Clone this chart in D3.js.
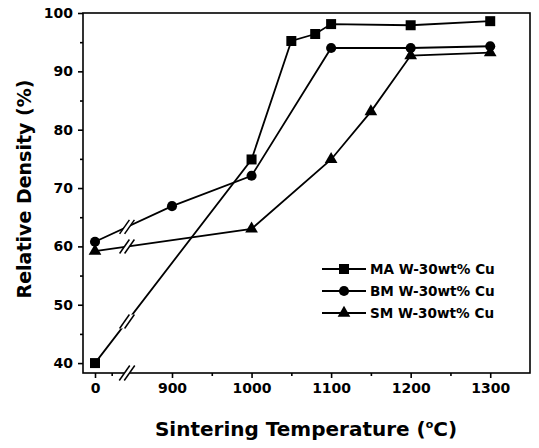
<!DOCTYPE html>
<html lang="en">
<head>
    <meta charset="UTF-8">
    <title>Relative density vs sintering temperature</title>
    <script src="https://d3js.org/d3.v7.min.js"></script>
</head>
<style>
    body { margin: 0; padding: 0; background: #fff; }
    svg { display: block; }
    text { font-family: "DejaVu Sans", sans-serif; font-weight: bold; fill: #000; }
</style>
<body>
<div class="chart"></div>
<script>
  /** DATA: temperature (0 = green compact) and relative density (%) */
  var maTemps = [0, 1000, 1050, 1080, 1100, 1200, 1300];
  var maDensity = [40.0, 74.9, 95.2, 96.4, 98.1, 97.9, 98.6];

  var bmTemps = [0, 900, 1000, 1100, 1200, 1300];
  var bmDensity = [60.8, 66.9, 72.1, 94.0, 94.0, 94.3];

  var smTemps = [0, 1000, 1100, 1150, 1200, 1300];
  var smDensity = [59.2, 63.0, 74.9, 83.1, 92.7, 93.2];

  var seriesNames = ['MA W-30wt% Cu', 'BM W-30wt% Cu', 'SM W-30wt% Cu'];
  var seriesSymbols = ['square', 'circle', 'triangle'];

  var xMajorTicks = [0, 900, 1000, 1100, 1200, 1300];
  var xMinorTicks = [195, 950, 1050, 1150, 1250];
  var yMajorTicks = [40, 50, 60, 70, 80, 90, 100];
  var yMinorTicks = [45, 55, 65, 75, 85, 95];

  var width = 539, height = 448;
  var plotLeft = 83, plotRight = 530, plotTop = 13, plotBottom = 373;

  var svg = d3.select('.chart').append('svg')
    .attr('width', width)
    .attr('height', height);

  svg.append('rect').attr('width', width).attr('height', height).attr('fill', '#fff');

  /** broken x axis: 0 sits just right of the frame, then 900..1350 is linear */
  var x = d3.scaleLinear()
    .domain([-20, 0, 900, 1350])
    .range([plotLeft, 95, 172, plotRight]);
  var y = d3.scaleLinear()
    .domain([38.3, 100])
    .range([plotBottom, plotTop]);

  var breakX = 127;

  /** frame */
  svg.append('rect')
    .attr('x', plotLeft).attr('y', plotTop)
    .attr('width', plotRight - plotLeft).attr('height', plotBottom - plotTop)
    .attr('fill', 'none').attr('stroke', '#000').attr('stroke-width', 1.6);

  /** axes */
  svg.append('g')
    .attr('transform', 'translate(0,' + plotBottom + ')')
    .call(d3.axisBottom(x).tickValues(xMajorTicks).tickSize(5).tickPadding(5).tickFormat(d3.format('d')));
  svg.append('g')
    .attr('transform', 'translate(0,' + plotBottom + ')')
    .call(d3.axisBottom(x).tickValues(xMinorTicks).tickSize(3).tickFormat(''));

  svg.append('g')
    .attr('transform', 'translate(' + plotLeft + ',0)')
    .call(d3.axisLeft(y).tickValues(yMajorTicks).tickSize(5).tickPadding(5));
  svg.append('g')
    .attr('transform', 'translate(' + plotLeft + ',0)')
    .call(d3.axisLeft(y).tickValues(yMinorTicks).tickSize(3).tickFormat(''));

  svg.selectAll('.domain').remove();
  svg.selectAll('.tick line').attr('stroke', '#000').attr('stroke-width', 1.6);
  svg.selectAll('.tick text')
    .style('font-family', '"DejaVu Sans", sans-serif')
    .style('font-weight', 'bold')
    .style('font-size', '14px')
    .attr('fill', '#000');

  /** "//" break marks */
  function drawBreak(cx, cy, h) {
    var dx = h * 0.35;
    var g = svg.append('g');
    g.append('polygon')
      .attr('points', [[cx - 2.5 - dx, cy + h / 2], [cx - 2.5 + dx, cy - h / 2], [cx + 2.5 + dx, cy - h / 2], [cx + 2.5 - dx, cy + h / 2]].join(' '))
      .attr('fill', '#fff');
    [-2.5, 2.5].forEach(function (off) {
      g.append('line')
        .attr('x1', cx + off - dx).attr('y1', cy + h / 2)
        .attr('x2', cx + off + dx).attr('y2', cy - h / 2)
        .attr('stroke', '#000').attr('stroke-width', 1.5);
    });
  }
  drawBreak(breakX, plotBottom, 15);

  /** series */
  var allSeries = [
    { temps: maTemps, values: maDensity },
    { temps: bmTemps, values: bmDensity },
    { temps: smTemps, values: smDensity }
  ];

  var line = d3.line()
    .x(function (d) { return x(d[0]); })
    .y(function (d) { return y(d[1]); });

  function symbolPath(kind) {
    if (kind === 'square') return d3.symbol().type(d3.symbolSquare).size(100)();
    if (kind === 'circle') return d3.symbol().type(d3.symbolCircle).size(80)();
    return d3.symbol().type(d3.symbolTriangle).size(70)();
  }

  allSeries.forEach(function (s) {
    var pts = s.temps.map(function (t, j) { return [t, s.values[j]]; });
    svg.append('path')
      .datum(pts)
      .attr('d', line)
      .attr('fill', 'none')
      .attr('stroke', '#000')
      .attr('stroke-width', 1.8);

    /** break marks on the first segment, where it crosses the axis break */
    var x0 = x(pts[0][0]), y0 = y(pts[0][1]);
    var x1 = x(pts[1][0]), y1 = y(pts[1][1]);
    var f = (breakX - x0) / (x1 - x0);
    drawBreak(breakX, y0 + f * (y1 - y0), 14);
  });

  allSeries.forEach(function (s, i) {
    svg.append('g').selectAll('path')
      .data(s.temps.map(function (t, j) { return [t, s.values[j]]; }))
      .enter().append('path')
      .attr('d', symbolPath(seriesSymbols[i]))
      .attr('transform', function (d) { return 'translate(' + x(d[0]) + ',' + y(d[1]) + ')'; })
      .attr('fill', '#000');
  });

  /** legend */
  var legendX = 322, legendY = 269, legendRow = 22;
  var legend = svg.append('g').selectAll('g')
    .data(seriesNames)
    .enter().append('g')
    .attr('transform', function (_, i) { return 'translate(' + legendX + ',' + (legendY + i * legendRow) + ')'; });
  legend.append('line')
    .attr('x1', 0).attr('x2', 44).attr('y1', 0).attr('y2', 0)
    .attr('stroke', '#000').attr('stroke-width', 1.8);
  legend.append('path')
    .attr('d', function (_, i) { return symbolPath(seriesSymbols[i]); })
    .attr('transform', 'translate(22,0)')
    .attr('fill', '#000');
  legend.append('text')
    .attr('x', 48).attr('y', 5)
    .style('font-size', '13.6px')
    .text(function (d) { return d; });

  /** axis titles */
  var xTitle = svg.append('text')
    .attr('x', 306).attr('y', 436)
    .attr('text-anchor', 'middle')
    .style('font-size', '20px');
  xTitle.append('tspan').text('Sintering Temperature (');
  xTitle.append('tspan').attr('dy', -8).style('font-size', '11px').text('o');
  xTitle.append('tspan').attr('dy', 8).text('C)');

  svg.append('text')
    .attr('transform', 'translate(31,189) rotate(-90)')
    .attr('text-anchor', 'middle')
    .style('font-size', '19px')
    .text('Relative Density (%)');
</script>
</body>
</html>
